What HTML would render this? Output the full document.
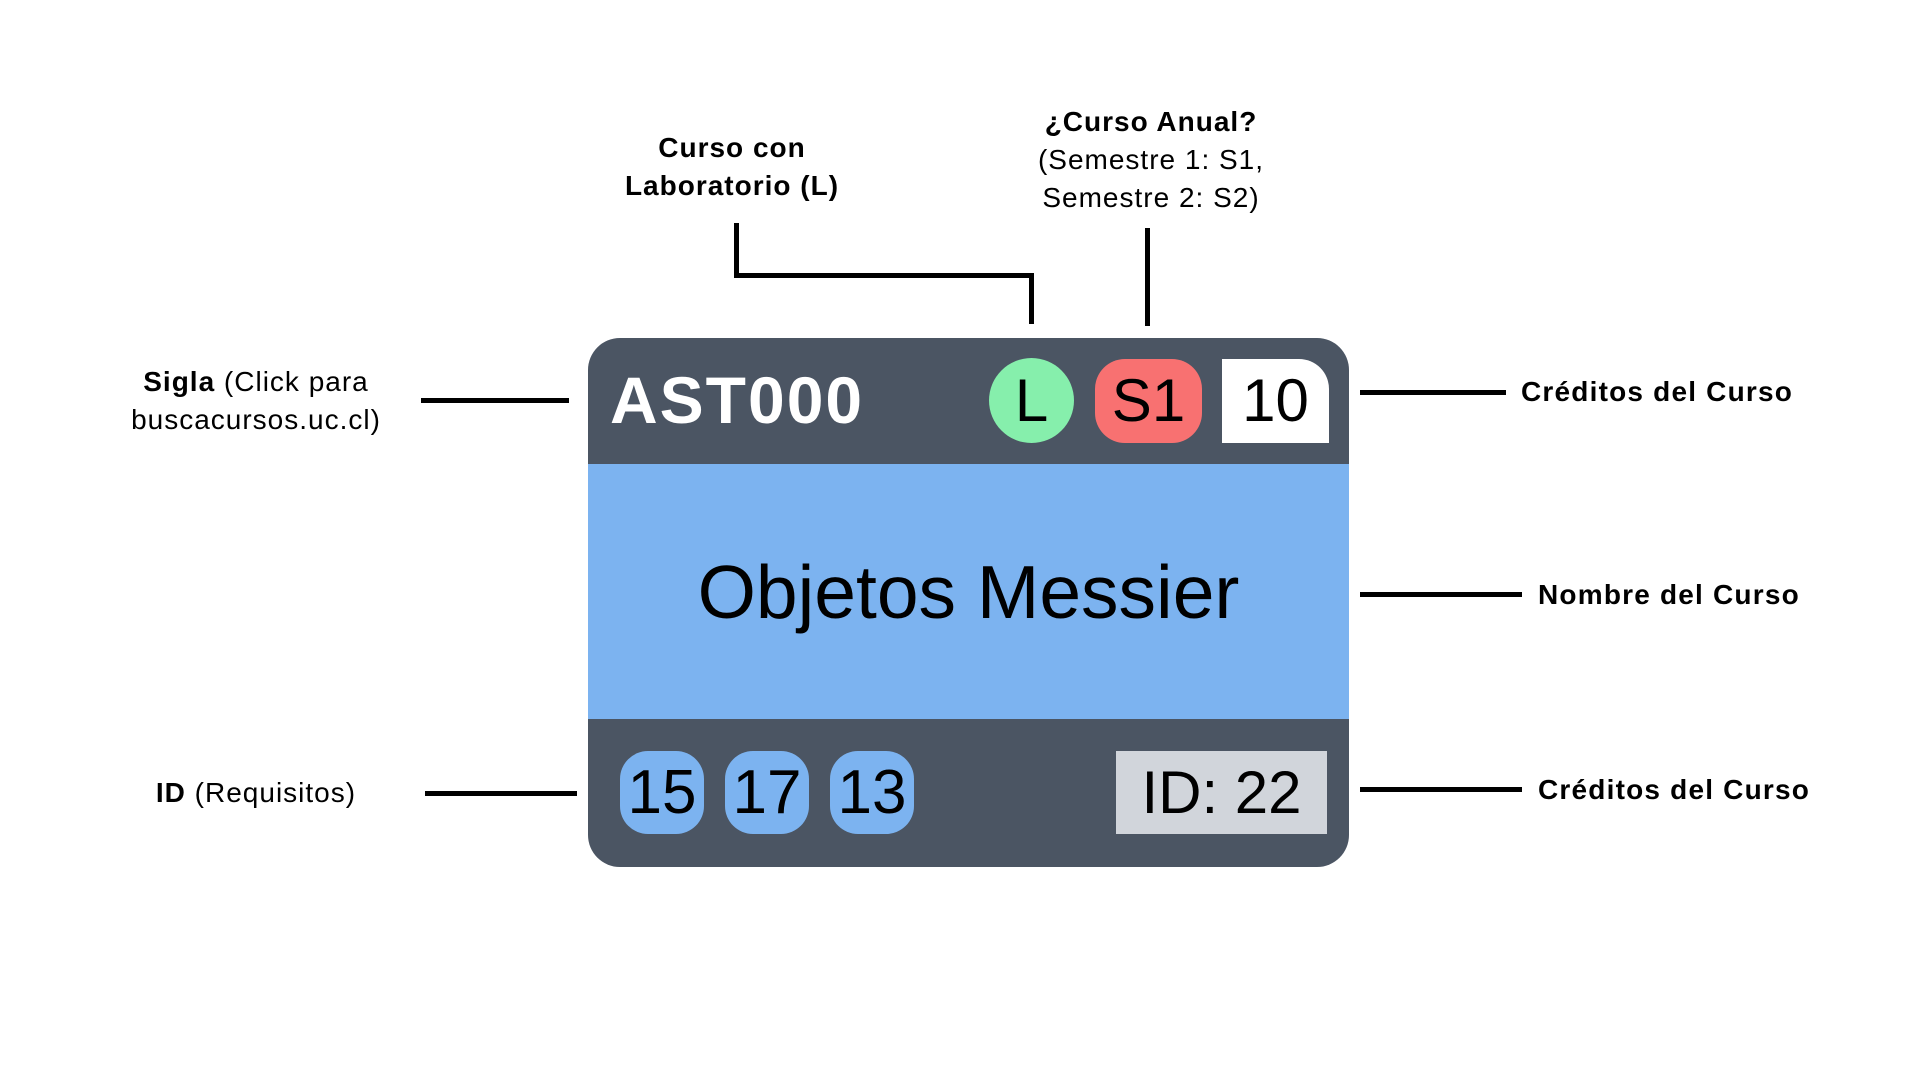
<!DOCTYPE html>
<html><head><meta charset="utf-8"><style>
body{margin:0;width:1920px;height:1080px;background:#fff;position:relative;overflow:hidden;font-family:"Liberation Sans",sans-serif}
.a{position:absolute}
.ln{position:absolute;background:#000}
.lbl{position:absolute;font-size:28px;color:#000;line-height:38px;text-align:center;white-space:nowrap;letter-spacing:1px}
.lb{position:absolute;font-size:28px;font-weight:bold;white-space:nowrap;line-height:38px;letter-spacing:1.2px}
.bub{position:absolute;background:#7cb3f0;border-radius:28px;width:84px;height:83px;top:751px;font-size:62px;line-height:83px;text-align:center;color:#000}
</style></head><body>
<div class="a" style="left:588px;top:338px;width:761px;height:529px;border-radius:32px;background:#4b5563;overflow:hidden">
 <div class="a" style="left:0;top:126px;width:761px;height:255px;background:#7cb3f0"></div>
</div>
<div class="a" style="left:610px;top:362px;font-size:66px;font-weight:bold;color:#fff;line-height:76px;letter-spacing:2px">AST000</div>
<div class="a" style="left:989px;top:358px;width:85px;height:85px;border-radius:50%;background:#86efac;font-size:60px;line-height:85px;text-align:center">L</div>
<div class="a" style="left:1095px;top:359px;width:107px;height:84px;border-radius:30px;background:#f87171;font-size:60px;line-height:84px;text-align:center">S1</div>
<div class="a" style="left:1222px;top:359px;width:107px;height:84px;border-radius:0 30px 0 0;background:#fff;font-size:60px;line-height:84px;text-align:center">10</div>
<div class="a" style="left:588px;top:542px;width:761px;text-align:center;font-size:75px;line-height:100px">Objetos Messier</div>
<div class="bub" style="left:620px">15</div>
<div class="bub" style="left:725px">17</div>
<div class="bub" style="left:830px">13</div>
<div class="a" style="left:1116px;top:751px;width:211px;height:83px;background:#d1d5db;font-size:60px;line-height:83px;text-align:center">ID: 22</div>

<div class="ln" style="left:421px;top:398px;width:148px;height:5px"></div>
<div class="ln" style="left:425px;top:791px;width:152px;height:5px"></div>
<div class="ln" style="left:1360px;top:390px;width:146px;height:5px"></div>
<div class="ln" style="left:1360px;top:592px;width:162px;height:5px"></div>
<div class="ln" style="left:1360px;top:787px;width:162px;height:5px"></div>
<div class="ln" style="left:734px;top:223px;width:5px;height:55px"></div>
<div class="ln" style="left:734px;top:273px;width:300px;height:5px"></div>
<div class="ln" style="left:1029px;top:273px;width:5px;height:51px"></div>
<div class="ln" style="left:1145px;top:228px;width:5px;height:98px"></div>

<div class="lbl" style="left:582px;top:129px;width:300px;font-weight:bold">Curso con<br>Laboratorio (L)</div>
<div class="lbl" style="left:1001px;top:103px;width:300px"><b>¿Curso Anual?</b><br>(Semestre 1: S1,<br>Semestre 2: S2)</div>
<div class="lbl" style="left:106px;top:363px;width:300px"><b>Sigla</b> (Click para<br>buscacursos.uc.cl)</div>
<div class="lbl" style="left:106px;top:774px;width:300px"><b>ID</b> (Requisitos)</div>
<div class="lb" style="left:1521px;top:373px">Créditos del Curso</div>
<div class="lb" style="left:1538px;top:576px">Nombre del Curso</div>
<div class="lb" style="left:1538px;top:771px">Créditos del Curso</div>
</body></html>
